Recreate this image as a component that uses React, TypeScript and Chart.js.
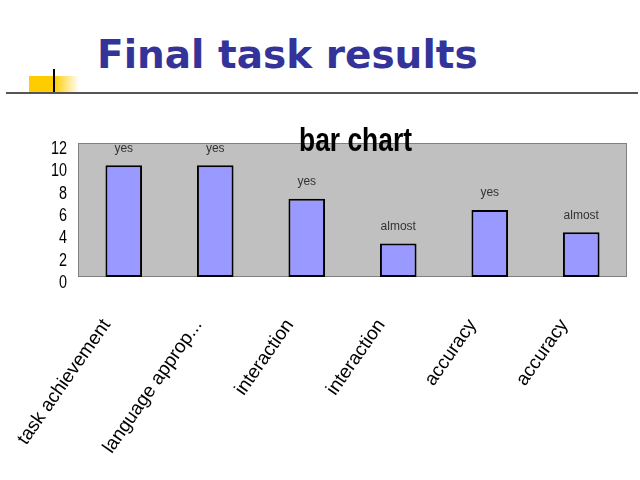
import React, { useEffect, useRef } from "react";
import { Chart, registerables } from "chart.js";
import type { Plugin } from "chart.js";

Chart.register(...registerables);

const slideTitle = "Final task results";
const chartTitle = "bar chart";
const categories = [
  "task achievement",
  "language approp...",
  "interaction",
  "interaction",
  "accuracy",
  "accuracy",
];
const scores = [10, 10, 7, 3, 6, 4];
const verdicts = ["yes", "yes", "yes", "almost", "yes", "almost"];

const sans = "'Liberation Sans', Arial, sans-serif";
// no narrow font installed, so narrow text is squeezed horizontally
const NARROW = 0.8;

// grey plot box behind the bars, with its thin frame
const plotFrame: Plugin<"bar"> = {
  id: "plotFrame",
  beforeDraw(chart) {
    const { ctx, chartArea: a } = chart;
    ctx.save();
    ctx.fillStyle = "#c0c0c0";
    ctx.fillRect(a.left, a.top, a.right - a.left, a.bottom - a.top);
    ctx.restore();
  },
  beforeDatasetsDraw(chart) {
    const { ctx, chartArea: a } = chart;
    ctx.save();
    ctx.strokeStyle = "#808080";
    ctx.lineWidth = 1;
    ctx.strokeRect(a.left + 0.5, a.top + 0.5, a.right - a.left - 1, a.bottom - a.top - 1);
    ctx.restore();
  },
};

// y tick labels in a narrow face, taken from the scale's own ticks
const narrowYTicks: Plugin<"bar"> = {
  id: "narrowYTicks",
  afterDraw(chart) {
    const { ctx } = chart;
    const y = chart.scales.y;
    ctx.save();
    ctx.font = `18px ${sans}`;
    ctx.fillStyle = "#000";
    ctx.textAlign = "right";
    ctx.textBaseline = "middle";
    y.ticks.forEach((t) => {
      ctx.save();
      ctx.translate(y.right - 11, y.getPixelForValue(t.value) + 6);
      ctx.scale(NARROW, 1);
      ctx.fillText(String(t.value), 0, 0);
      ctx.restore();
    });
    ctx.restore();
  },
};

// "yes" / "almost" above each bar
const verdictLabels: Plugin<"bar"> = {
  id: "verdictLabels",
  afterDatasetsDraw(chart) {
    const { ctx } = chart;
    const meta = chart.getDatasetMeta(0);
    ctx.save();
    ctx.font = `12px ${sans}`;
    ctx.fillStyle = "#333333";
    ctx.textAlign = "center";
    ctx.textBaseline = "middle";
    meta.data.forEach((bar, i) => {
      ctx.fillText(verdicts[i], bar.x, bar.y - 17);
    });
    ctx.restore();
  },
};

// the chart title sits on the top edge of the plot box
const overlapTitle: Plugin<"bar"> = {
  id: "overlapTitle",
  afterDraw(chart) {
    const { ctx, chartArea: a } = chart;
    ctx.save();
    ctx.font = `bold 33px ${sans}`;
    ctx.fillStyle = "#000";
    ctx.textAlign = "center";
    ctx.textBaseline = "alphabetic";
    ctx.translate((a.left + a.right) / 2 + 3, a.top + 8);
    ctx.scale(NARROW, 1);
    ctx.fillText(chartTitle, 0, 0);
    ctx.restore();
  },
};

function BarChart() {
  const canvasRef = useRef<HTMLCanvasElement | null>(null);
  const chartRef = useRef<Chart | null>(null);

  useEffect(() => {
    if (chartRef.current) chartRef.current.destroy();
    const ctx = canvasRef.current?.getContext("2d");
    if (!ctx) return;

    chartRef.current = new Chart(ctx, {
      type: "bar",
      data: {
        labels: categories,
        datasets: [
          {
            data: scores,
            backgroundColor: "#9999ff",
            borderColor: "#000",
            borderWidth: 2,
            borderSkipped: false,
            barPercentage: 0.4,
            categoryPercentage: 1,
          },
        ],
      },
      options: {
        responsive: false,
        animation: false,
        layout: { padding: { top: 143, right: 13, left: 0, bottom: 0 } },
        plugins: {
          legend: { display: false },
          tooltip: { enabled: false },
          title: { display: false },
        },
        scales: {
          x: {
            grid: { display: false },
            border: { display: false },
            ticks: {
              autoSkip: false,
              maxRotation: 55,
              minRotation: 55,
              padding: 30,
              labelOffset: -17,
              color: "#000",
              font: { family: sans, size: 19 },
            },
            afterFit(scale) {
              scale.height = 480 - 277;
            },
          },
          y: {
            min: 0,
            max: 12,
            grid: { display: false },
            border: { display: false },
            ticks: {
              stepSize: 2,
              autoSkip: false,
              display: false,
            },
            afterFit(scale) {
              scale.width = 78;
            },
          },
        },
      },
      plugins: [plotFrame, verdictLabels, narrowYTicks, overlapTitle],
    });

    return () => {
      if (chartRef.current) {
        chartRef.current.destroy();
        chartRef.current = null;
      }
    };
  }, []);

  return <canvas ref={canvasRef} width={640} height={480} style={{ position: "absolute", left: 0, top: 0 }} />;
}

export default function App() {
  return (
    <div
      style={{
        position: "fixed",
        left: 0,
        top: 0,
        width: 640,
        height: 480,
        background: "#fff",
        overflow: "hidden",
      }}
    >
      <div
        style={{
          position: "absolute",
          left: 29,
          top: 76,
          width: 50,
          height: 17,
          background: "linear-gradient(to right, #ffcc00 0%, #ffcc00 50%, rgba(255,204,0,0) 100%)",
        }}
      />
      <div style={{ position: "absolute", left: 53, top: 69, width: 2, height: 24, background: "#000" }} />
      <div style={{ position: "absolute", left: 6, top: 92, width: 632, height: 2, background: "#555" }} />
      <div
        style={{
          position: "absolute",
          left: 97,
          top: 35,
          font: "bold 39px 'DejaVu Sans', Verdana, sans-serif",
          lineHeight: "39px",
          color: "#333399",
          whiteSpace: "nowrap",
        }}
      >
        {slideTitle}
      </div>
      <BarChart />
    </div>
  );
}
